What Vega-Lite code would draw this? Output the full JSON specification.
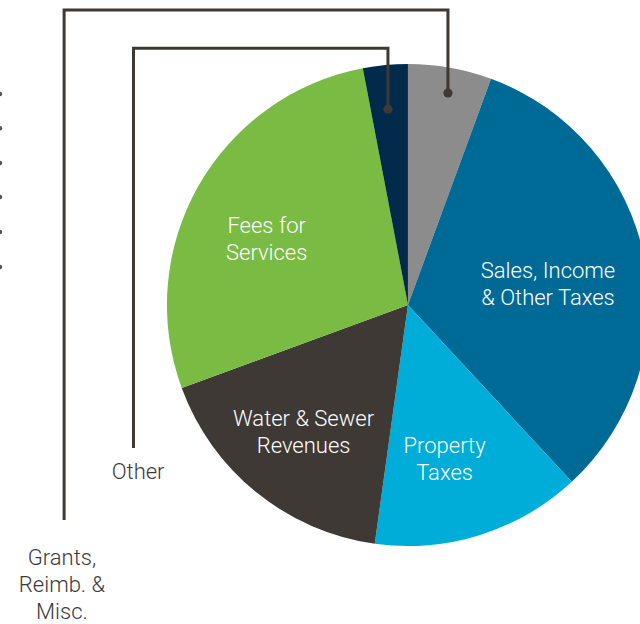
{
  "$schema": "https://vega.github.io/schema/vega-lite/v6.json",
  "width": 640,
  "height": 624,
  "autosize": {"type": "none"},
  "padding": 0,
  "background": "white",
  "config": {"view": {"stroke": null}},
  "datasets": {
    "revenue": [
      {"rank": 1, "category": "Grants, Reimb. & Misc.", "share": 5.6, "label": ""},
      {"rank": 2, "category": "Sales, Income & Other Taxes", "share": 32.5, "label": "Sales, Income\n& Other Taxes"},
      {"rank": 3, "category": "Property Taxes", "share": 14.1, "label": "Property\nTaxes"},
      {"rank": 4, "category": "Water & Sewer Revenues", "share": 17.2, "label": "Water & Sewer\nRevenues"},
      {"rank": 5, "category": "Fees for Services", "share": 27.6, "label": "Fees for\nServices"},
      {"rank": 6, "category": "Other", "share": 3.0, "label": ""}
    ],
    "leaders": [
      {"series": "Grants", "step": 1, "x": 0.166, "y": 0.880},
      {"series": "Grants", "step": 2, "x": 0.166, "y": 1.224},
      {"series": "Grants", "step": 3, "x": -1.427, "y": 1.224},
      {"series": "Grants", "step": 4, "x": -1.427, "y": -0.892},
      {"series": "Other", "step": 1, "x": -0.083, "y": 0.813},
      {"series": "Other", "step": 2, "x": -0.083, "y": 1.066},
      {"series": "Other", "step": 3, "x": -1.139, "y": 1.066},
      {"series": "Other", "step": 4, "x": -1.139, "y": -0.593}
    ],
    "anchors": [
      {"series": "Grants", "x": 0.166, "y": 0.880},
      {"series": "Other", "x": -0.083, "y": 0.813}
    ],
    "outside": [
      {"text": "Other", "x": -1.120, "y": -0.693},
      {"text": "Grants,\nReimb. &\nMisc.", "x": -1.436, "y": -1.050}
    ],
    "bullets": [
      {"x": -1.693, "y": 0.876},
      {"x": -1.693, "y": 0.734},
      {"x": -1.693, "y": 0.589},
      {"x": -1.693, "y": 0.448},
      {"x": -1.693, "y": 0.303},
      {"x": -1.693, "y": 0.158}
    ]
  },
  "layer": [
    {
      "data": {"name": "revenue"},
      "mark": {"type": "arc", "radius": 241, "strokeWidth": 0},
      "encoding": {
        "x": {"datum": 0, "type": "quantitative", "scale": {"domain": [-1.693, 0.963], "nice": false, "zero": false}, "axis": null},
        "y": {"datum": 0, "type": "quantitative", "scale": {"domain": [-1.324, 1.266], "nice": false, "zero": false}, "axis": null},
        "theta": {"field": "share", "type": "quantitative", "stack": true},
        "order": {"field": "rank", "type": "quantitative"},
        "color": {
          "field": "category",
          "type": "nominal",
          "legend": null,
          "scale": {
            "domain": ["Grants, Reimb. & Misc.", "Sales, Income & Other Taxes", "Property Taxes", "Water & Sewer Revenues", "Fees for Services", "Other"],
            "range": ["#8b8c8b", "#006a96", "#00acd8", "#3e3935", "#79bb43", "#022a4a"]
          }
        }
      }
    },
    {
      "data": {"name": "revenue"},
      "mark": {"type": "text", "radius": 152, "dx": -9, "dy": -4, "color": "white", "font": "Roboto", "fontWeight": 300, "fontSize": 22, "lineBreak": "\n", "lineHeight": 27, "align": "center", "baseline": "middle"},
      "encoding": {
        "x": {"datum": 0, "type": "quantitative"},
        "y": {"datum": 0, "type": "quantitative"},
        "theta": {"field": "share", "type": "quantitative", "stack": true},
        "order": {"field": "rank", "type": "quantitative"},
        "text": {"field": "label"}
      }
    },
    {
      "data": {"name": "leaders"},
      "mark": {"type": "line", "color": "#3e3935", "strokeWidth": 3, "strokeJoin": "miter", "strokeCap": "butt"},
      "encoding": {
        "x": {"field": "x", "type": "quantitative"},
        "y": {"field": "y", "type": "quantitative"},
        "detail": {"field": "series"},
        "order": {"field": "step", "type": "quantitative"}
      }
    },
    {
      "data": {"name": "anchors"},
      "mark": {"type": "point", "filled": true, "size": 85, "color": "#3e3935", "opacity": 1},
      "encoding": {
        "x": {"field": "x", "type": "quantitative"},
        "y": {"field": "y", "type": "quantitative"}
      }
    },
    {
      "data": {"name": "bullets"},
      "mark": {"type": "point", "filled": true, "size": 20, "color": "#555555", "opacity": 1},
      "encoding": {
        "x": {"field": "x", "type": "quantitative"},
        "y": {"field": "y", "type": "quantitative"}
      }
    },
    {
      "data": {"name": "outside"},
      "mark": {"type": "text", "color": "#3a3a3a", "font": "Roboto", "fontWeight": 300, "fontSize": 22, "lineBreak": "\n", "lineHeight": 27, "align": "center", "baseline": "middle"},
      "encoding": {
        "x": {"field": "x", "type": "quantitative"},
        "y": {"field": "y", "type": "quantitative"},
        "text": {"field": "text"}
      }
    }
  ]
}
